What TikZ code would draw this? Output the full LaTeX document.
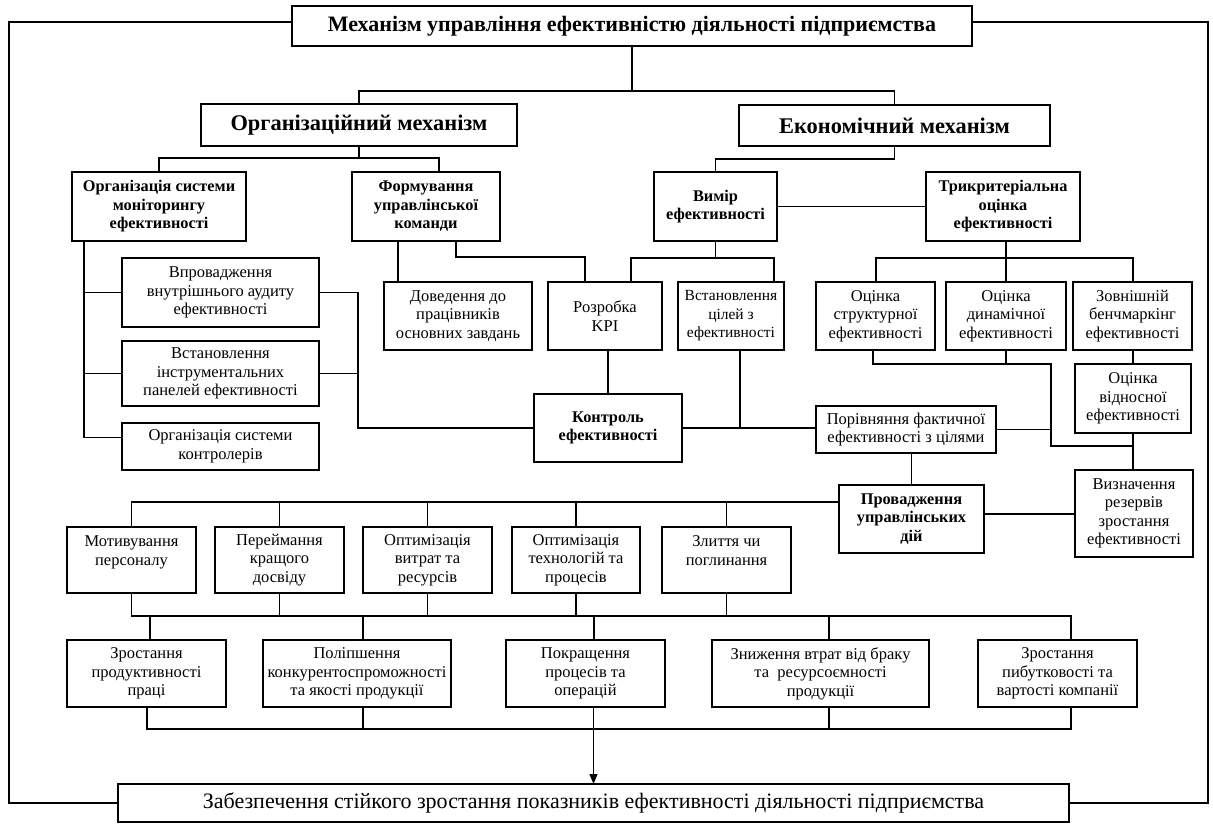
\documentclass[tikz,border=0pt]{standalone}
\usepackage{fontspec}
\setmainfont{Liberation Serif}
\usetikzlibrary{arrows.meta}
\newcommand\mybox[7][]{\node[box,#1,minimum width={((#5)-(#3))*1pt},minimum height={((#6)-(#4))*1pt}] (#2) at ({((#3)+(#5))/2},{((#4)+(#6))/2}) {#7};}
\begin{document}
\begin{tikzpicture}[x=1pt,y=-1pt,line width=1.3pt,
  box/.style={draw, rectangle, inner sep=0pt, outer sep=0pt, align=center, font=\fontsize{16.5}{18.5}\selectfont},
  bbox/.style={font=\bfseries\fontsize{16.3}{18.5}\selectfont},
  big/.style={font=\bfseries\fontsize{22.4}{25}\selectfont}]
\useasboundingbox (0,0) rectangle (1213,823);
% nodes
\mybox[font=\bfseries\fontsize{22}{25}\selectfont]{title}{292}{6}{972}{46}{Механізм управління ефективністю діяльності підприємства}
\mybox[big]{org}{201}{104}{517}{146}{Організаційний механізм}
\mybox[big]{econ}{739}{105}{1050}{146}{Економічний механізм}
\mybox[bbox]{monit}{72}{172}{246}{241}{Організація системи\\моніторингу\\ефективності}
\mybox[bbox]{form}{352}{172}{500}{241}{Формування\\управлінської\\команди}
\mybox[bbox]{vymir}{654}{172}{777}{241}{Вимір\\ефективності}
\mybox[bbox]{tryk}{926}{172}{1080}{241}{Трикритеріальна\\оцінка\\ефективності}
\mybox{audit}{122}{258}{319}{327}{Впровадження\\внутрішнього аудиту\\ефективності}
\mybox{panel}{122}{341}{319}{406}{Встановлення\\інструментальних\\панелей ефективності}
\mybox{kontr}{122}{423}{319}{470}{Організація системи\\контролерів}
\mybox{dov}{384}{282}{532}{350}{Доведення до\\працівників\\основних завдань}
\mybox{kpi}{548}{282}{662}{350}{Розробка\\KPI}
\mybox[font=\fontsize{15.5}{18.5}\selectfont]{cili}{678}{282}{784}{350}{Встановлення\\цілей з\\ефективності}
\mybox{strukt}{816}{282}{935}{350}{Оцінка\\структурної\\ефективності}
\mybox{dynam}{946}{282}{1066}{350}{Оцінка\\динамічної\\ефективності}
\mybox{bench}{1073}{282}{1192}{350}{Зовнішній\\бенчмаркінг\\ефективності}
\mybox{vidn}{1075}{364}{1191}{433}{Оцінка\\відносної\\ефективності}
\mybox[bbox]{control}{534}{394}{682}{462}{Контроль\\ефективності}
\mybox{porivn}{816}{406}{996}{453}{Порівняння фактичної\\ефективності з цілями}
\mybox[bbox]{provad}{839}{485}{984}{553}{Провадження\\управлінських\\дій}
\mybox{vyzn}{1075}{470}{1193}{557}{Визначення\\резервів\\зростання\\ефективності}
\mybox{motyv}{67}{527}{196}{593}{Мотивування\\персоналу\\\mbox{}}
\mybox{perei}{215}{527}{344}{593}{Переймання\\кращого\\досвіду}
\mybox{optv}{363}{527}{492}{593}{Оптимізація\\витрат та\\ресурсів}
\mybox{optt}{512}{527}{640}{593}{Оптимізація\\технологій та\\процесів}
\mybox{zlyt}{662}{527}{791}{593}{Злиття чи\\поглинання\\\mbox{}}
\mybox{zprod}{67}{640}{226}{707}{Зростання\\продуктивності\\праці}
\mybox{polip}{263}{640}{451}{707}{Поліпшення\\конкурентоспроможності\\та якості продукції}
\mybox{pokr}{506}{640}{665}{707}{Покращення\\процесів та\\операцій}
\mybox{znyzh}{712}{640}{929}{707}{Зниження втрат від браку\\та~ ресурсоємності\\продукції}
\mybox{zprib}{978}{640}{1137}{707}{Зростання\\пибутковості та\\вартості компанії}
\mybox[font=\fontsize{22}{25}\selectfont]{final}{118}{784}{1069}{822}{Забезпечення стійкого зростання показників ефективності діяльності підприємства}
% junction coordinates
\coordinate (jt) at (632,91);
\coordinate (jo) at (359,158);
\coordinate (je) at (895,159);
\coordinate (xl) at (84,0);
\coordinate (xr) at (358,0);
\coordinate (x398) at (398,0);
\coordinate (x456) at (456,0);
\coordinate (jf) at (585,257);
\coordinate (a631) at (631,258);
\coordinate (a774) at (774,258);
\coordinate (b1) at (876,258);
\coordinate (b3) at (1133,258);
\coordinate (d1) at (873,364);
\coordinate (d2) at (1051,364);
\coordinate (d3) at (1051,446);
\coordinate (r1) at (0,502);
\coordinate (m2) at (1071,616);
\coordinate (n1) at (147,729);
\coordinate (n2) at (1071,729);
\coordinate (x150) at (150,0);
\coordinate (x363) at (363,0);
\coordinate (x594) at (594,0);
\coordinate (x829) at (829,0);
\coordinate (fl) at (9,22);
\coordinate (fr) at (1208,22);
% connectors
\draw (title.south) -- (jt);
\draw (org.north) |- (jt) -| (econ.north);
\draw (org.south) -- (jo);
\draw (monit.north) |- (jo) -| ([xshift=13pt]form.north);
\draw (econ.south) -- (econ.south |- je) -| (vymir.north);
\draw (vymir.east) -- (tryk.west);
\draw (monit.south -| xl) |- ([yshift=9pt]kontr.west);
\draw (audit.west) -- (audit.west -| xl);
\draw (panel.west) -- (panel.west -| xl);
\draw (audit.east) -| (control.west -| xr) -- (control.west);
\draw (panel.east) -- (panel.east -| xr);
\draw (form.south -| x398) -- (dov.north -| x398);
\draw (form.south -| x456) |- (jf) -- (kpi.north -| jf);
\draw (vymir.south) -- (vymir.south |- a631);
\draw (kpi.north -| a631) -- (a631) -- (a774) -- (cili.north -| a774);
\draw (tryk.south -| dynam.north) -- (dynam.north);
\draw (strukt.north -| b1) -- (b1) -- (b3) -- (bench.north -| b3);
\draw (strukt.south -| d1) -- (d1) -- (d2) -- (d3) -- (d3 -| vidn.south);
\draw (dynam.south) -- (dynam.south |- d1);
\draw (bench.south -| vidn.north) -- (vidn.north);
\draw (vidn.south) -- (vyzn.north -| vidn.south);
\draw (kpi.south -| control.north) -- (control.north);
\draw (control.east) -- (porivn.west |- control.east);
\draw ([xshift=9pt]cili.south) -- ([xshift=9pt]cili.south |- control.east);
\draw (porivn.east) -- (porivn.east -| d3);
\draw (porivn.south -| provad.north) -- (provad.north);
\draw ([yshift=5pt]provad.east) -- ([yshift=5pt]provad.east -| vyzn.west);
\draw (motyv.north) |- ([yshift=17pt]provad.west);
\draw (perei.north) -- (perei.north |- r1);
\draw (optv.north) -- (optv.north |- r1);
\draw (optt.north) -- (optt.north |- r1);
\draw (zlyt.north) -- (zlyt.north |- r1);
\draw (motyv.south) |- (m2) -- (zprib.north -| m2);
\draw (perei.south) -- (perei.south |- m2);
\draw (optv.south) -- (optv.south |- m2);
\draw (optt.south) -- (optt.south |- m2);
\draw (zlyt.south) -- (zlyt.south |- m2);
\draw (zprod.north -| x150) -- (x150 |- m2);
\draw (polip.north -| x363) -- (x363 |- m2);
\draw (pokr.north -| x594) -- (x594 |- m2);
\draw (znyzh.north -| x829) -- (x829 |- m2);
\draw (zprod.south -| n1) |- (n2) -- (zprib.south -| n2);
\draw (polip.south -| x363) -- (x363 |- n2);
\draw (znyzh.south -| x829) -- (x829 |- n2);
\draw[-{Triangle[length=10pt,width=8pt]}] (pokr.south -| final.north) -- (final.north);
\draw ([yshift=4pt]title.west) -| (fl) |- (final.west);
\draw ([yshift=4pt]title.east) -| (fr) |- (final.east);
\end{tikzpicture}
\end{document}
